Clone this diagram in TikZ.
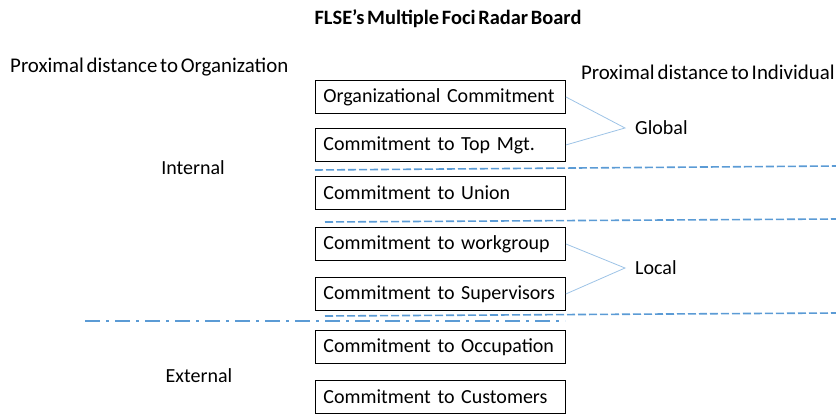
\documentclass[tikz,border=0pt]{standalone}
\usepackage{fontspec}
\setmainfont{Carlito}[WordSpace=0.6]
\definecolor{dashblue}{RGB}{91,155,213}
\definecolor{lightblue}{RGB}{157,195,230}
\begin{document}
\begin{tikzpicture}[x=1pt,y=-1pt,
  box/.style={draw=black,line width=0.9pt,minimum width=250pt,minimum height=33pt,anchor=north west,inner sep=0pt,font=\fontsize{20}{24}\selectfont,align=left,text width=234pt},
  lbl/.style={font=\fontsize{20}{24}\selectfont,inner sep=0pt},
  sep/.style={dashblue,line width=1.6pt,dash pattern=on 8pt off 3pt},
  brace/.style={lightblue,line width=0.8pt}]
\useasboundingbox (0,0) rectangle (836,415);
\node[font=\bfseries\fontsize{20.4}{24}\selectfont,inner sep=0pt] (title) at (448,19) {FLSE’s Multiple Foci Radar Board};
\node[lbl,font=\fontsize{20.9}{24}\selectfont,anchor=west] (porg) at (10,67) {Proximal distance to Organization};
\node[lbl,font=\fontsize{20.9}{24}\selectfont,anchor=east] (pind) at (835,72) {Proximal distance to Individual};
\node[lbl] (int) at (193,168) {Internal};
\node[lbl] (ext) at (199,376) {External};
\node[box] (b1) at (315,80) {Organizational Commitment};
\node[box] (b2) at (315,128) {Commitment to Top Mgt.};
\node[box] (b3) at (315,176) {Commitment to Union};
\node[box] (b4) at (315,227) {Commitment to workgroup};
\node[box] (b5) at (315,277) {Commitment to Supervisors};
\node[box] (b6) at (315,330) {Commitment to Occupation};
\node[box] (b7) at (315,380) {Commitment to Customers};
\node[lbl,anchor=west] (glob) at (635,128) {Global};
\node[lbl,anchor=west] (loc) at (635,268) {Local};
\coordinate (g) at (625,128);
\coordinate (l) at (625,268);
\draw[brace] (b1.east) -- (g) -- (b2.east);
\draw[brace] (b4.east) -- (l) -- (b5.east);
\coordinate (d1a) at (315,170); \coordinate (d1b) at (836,166);
\coordinate (d2a) at (325,222); \coordinate (d2b) at (836,219);
\coordinate (d3a) at (325,316); \coordinate (d3b) at (836,313);
\draw[sep] (d1a) -- (d1b);
\draw[sep] (d2a) -- (d2b);
\draw[sep] (d3a) -- (d3b);
\coordinate (dda) at (85,321); \coordinate (ddb) at (565,321);
\draw[dashblue,line width=1.6pt,dash pattern=on 15pt off 6pt on 3pt off 6pt] (dda) -- (ddb);
\end{tikzpicture}
\end{document}
